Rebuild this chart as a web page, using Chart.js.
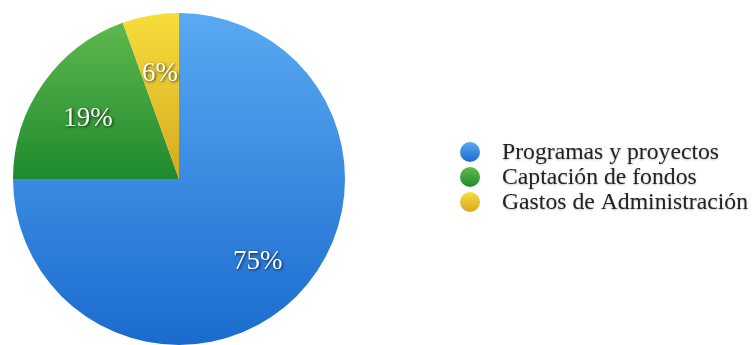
<!DOCTYPE html>
<html>
<head>
<meta charset="utf-8">
<script src="https://cdn.jsdelivr.net/npm/chart.js@4/dist/chart.umd.min.js"></script>
<style>
html,body{margin:0;padding:0;background:#fff;}
#wrap{width:756px;height:345px;position:relative;}
</style>
</head>
<body>
<div id="wrap"><canvas id="c" width="756" height="345"></canvas></div>
<script>
const categories = ["Programas y proyectos", "Captación de fondos", "Gastos de Administración"];
const values = [75, 19.5, 5.5];
const percentLabels = ["75%", "19%", "6%"];
const topColors = ["#5aa9f3", "#62bb4e", "#f7dd3c"];
const bottomColors = ["#1b6bcf", "#1f8a2f", "#d6a920"];

function sliceFill(ctx) {
  const chart = ctx.chart;
  const i = ctx.dataIndex;
  const area = chart.chartArea;
  if (!area) return topColors[i];
  const top = area.top;
  const bottom = i === 0 ? area.bottom : (area.top + area.bottom) / 2;
  const g = chart.ctx.createLinearGradient(0, top, 0, bottom);
  g.addColorStop(0, topColors[i]);
  g.addColorStop(1, bottomColors[i]);
  return g;
}

const labelPlugin = {
  id: 'sliceLabels',
  afterDatasetsDraw(chart) {
    const c = chart.ctx;
    const meta = chart.getDatasetMeta(0);
    c.save();
    c.font = '27px "Liberation Serif", "Times New Roman", serif';
    c.textAlign = 'center';
    c.textBaseline = 'middle';
    meta.data.forEach((arc, i) => {
      const p = arc.getProps(['x','y','startAngle','endAngle','outerRadius'], true);
      const mid = (p.startAngle + p.endAngle) / 2;
      const r = p.outerRadius * 0.67;
      const x = p.x + Math.cos(mid) * r;
      const y = p.y + Math.sin(mid) * r + 4;
      c.shadowColor = 'rgba(0,0,0,0.75)';
      c.shadowBlur = 3;
      c.shadowOffsetX = 1;
      c.shadowOffsetY = 1;
      c.fillStyle = '#ffffff';
      c.fillText(percentLabels[i], x, y);
    });
    c.restore();
  }
};

const legendPlugin = {
  id: 'sideLegend',
  afterDraw(chart) {
    const c = chart.ctx;
    c.save();
    const x0 = 470, y0 = 152, step = 25;
    chart.data.labels.forEach((lab, i) => {
      const y = y0 + i * step;
      const g = c.createLinearGradient(0, y - 10, 0, y + 10);
      g.addColorStop(0, topColors[i]);
      g.addColorStop(1, bottomColors[i]);
      c.beginPath();
      c.arc(x0, y, 10, 0, Math.PI * 2);
      c.fillStyle = g;
      c.fill();
      c.font = '23.7px "Liberation Serif", "Times New Roman", serif';
      c.textAlign = 'left';
      c.textBaseline = 'middle';
      c.fillStyle = '#222222';
      c.shadowColor = 'rgba(0,0,0,0.25)';
      c.shadowBlur = 2;
      c.shadowOffsetX = 0;
      c.shadowOffsetY = 1;
      c.fillText(lab, 502, y + 1);
      c.shadowColor = 'transparent';
    });
    c.restore();
  }
};

new Chart(document.getElementById('c'), {
  type: 'pie',
  data: {
    labels: categories,
    datasets: [{
      data: values,
      backgroundColor: sliceFill,
      borderWidth: 0
    }]
  },
  options: {
    responsive: false,
    animation: false,
    layout: { padding: { left: 13, right: 411, top: 13, bottom: 0 } },
    plugins: { legend: { display: false }, tooltip: { enabled: false } }
  },
  plugins: [labelPlugin, legendPlugin]
});
</script>
</body>
</html>
